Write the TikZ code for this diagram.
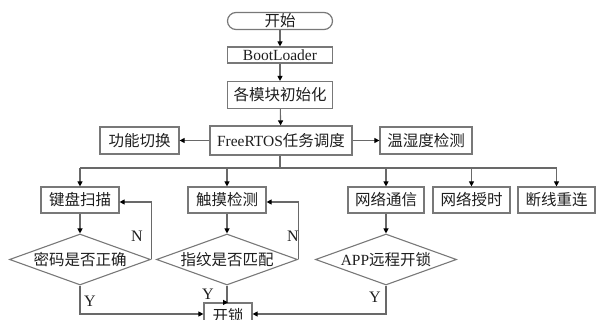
\documentclass[tikz,border=0pt]{standalone}
\usepackage{fontspec}
\setmainfont{Liberation Serif}
\newfontfamily\cjk{Noto Sans CJK SC}
\usetikzlibrary{arrows.meta,shapes.geometric}
\definecolor{linegray}{RGB}{105,105,105}
\definecolor{boxgray}{RGB}{120,120,120}
\definecolor{txt}{RGB}{30,30,30}
\tikzset{
  box/.style={draw=boxgray,line width=1.2pt,inner sep=0pt,minimum height=26pt,text=txt,font=\fontsize{15.5}{16}\selectfont\cjk},
  dia/.style={draw=boxgray,line width=1.1pt,diamond,inner sep=0pt,aspect=2.75,minimum width=141pt,minimum height=51pt,text=txt,font=\fontsize{15.5}{16}\selectfont\cjk},
  conn/.style={draw=linegray,line width=1.1pt,-{Triangle[length=5pt,width=5pt,color=black]}},
  plain/.style={draw=linegray,line width=1.1pt},
  lbl/.style={text=txt,font=\fontsize{16}{16}\selectfont,inner sep=0pt},
  lat/.style={font=\fontsize{16}{16}\selectfont\rmfamily}
}
\begin{document}
\begin{tikzpicture}[x=1pt,y=-1pt]
\useasboundingbox (0,0) rectangle (597,320);
\begin{scope}
\clip (0,0) rectangle (597,320);
\node[box,rounded corners=8.5pt,minimum width=105pt,minimum height=17pt] (start) at (280,21) {开始};
\node[box,minimum width=105pt,minimum height=16pt] (boot) at (280,55) {\rmfamily BootLoader};
\node[box,minimum width=105pt,minimum height=27pt] (init) at (280,95) {各模块初始化};
\node[box,minimum width=142pt,minimum height=29pt] (rtos) at (281,140.5) {{\rmfamily FreeRTOS}任务调度};
\node[box,minimum width=79pt,minimum height=27pt] (func) at (139.5,140.5) {功能切换};
\node[box,minimum width=92pt,minimum height=27pt] (temp) at (426,140.5) {温湿度检测};
\coordinate (br) at (280,168);
\node[box,minimum width=78pt] (kb) at (80,200) {键盘扫描};
\node[box,minimum width=78pt] (touch) at (227,200) {触摸检测};
\node[box,minimum width=76pt] (net) at (386,200) {网络通信};
\node[box,minimum width=77pt] (time) at (471.5,200) {网络授时};
\node[box,minimum width=77pt] (recon) at (556.5,200) {断线重连};
\node[dia] (pwd) at (80,259.5) {密码是否正确};
\node[dia] (fp) at (227,259.5) {指纹是否匹配};
\node[dia] (app) at (386,259.5) {{\rmfamily APP}远程开锁};
\node[box,minimum width=48pt] (unlock) at (228,316) {开锁};
\draw[conn] (start) -- (boot);
\draw[conn] (boot) -- (init);
\draw[conn] (init) -- (rtos);
\draw[conn] (rtos) -- (func);
\draw[conn] (rtos) -- (temp);
\draw[plain] (rtos.south -| br) -- (br);
\draw[plain] (br -| kb) -- (br -| recon);
\draw[conn] (br -| kb) -- (kb);
\draw[conn] (br -| touch) -- (touch);
\draw[conn] (br -| net) -- (net);
\draw[conn] (br -| time) -- (time);
\draw[conn] (br -| recon) -- (recon);
\draw[conn] (kb) -- (pwd);
\draw[conn] (touch) -- (fp);
\draw[conn] (net) -- (app);
\draw[conn] (pwd.east) -- (pwd.east |- 0,202) -- (kb.east |- 0,202);
\draw[conn] (fp.east) -- (fp.east |- 0,202) -- (touch.east |- 0,202);
\draw[conn] (pwd.south) -- (pwd.south |- 0,314) -- (unlock.west |- 0,314);
\draw[conn] (fp.south) -- (fp.south |- unlock.north) -- (unlock.north);
\draw[conn] (app.south) -- (app.south |- 0,314) -- (unlock.east |- 0,314);
\node[lbl] (n1) at (137,236) {N};
\node[lbl] (n2) at (293,236) {N};
\node[lbl] (y1) at (90,301) {Y};
\node[lbl] (y2) at (208,294) {Y};
\node[lbl] (y3) at (375,297) {Y};
\end{scope}
\end{tikzpicture}
\end{document}
